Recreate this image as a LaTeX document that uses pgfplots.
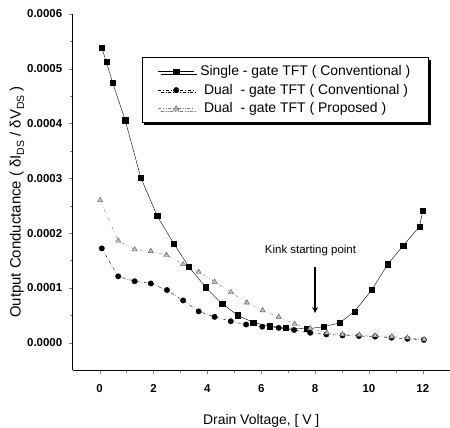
\documentclass[border=0pt]{standalone}
\usepackage{fontspec}
\setmainfont{Liberation Sans}
\usepackage{pgfplots}
\pgfplotsset{compat=1.18}
\usetikzlibrary{shadows,arrows.meta}

\newcommand{\sub}[1]{\raisebox{-0.45ex}{\fontsize{10.5}{11}\selectfont #1}}

\begin{document}
\begin{tikzpicture}
\useasboundingbox (-72.7bp,-58bp) rectangle (377.3bp,370bp);
\begin{axis}[
    scale only axis,
    width=377bp, height=356bp,
    at={(0,0)}, anchor=south west,
    xmin=-1, xmax=13,
    ymin=-0.00005, ymax=0.0006,
    axis x line*=bottom, axis y line*=left,
    axis line style={line width=0.8pt},
    xtick={0,2,...,12},
    ytick={0,0.0001,...,0.0006},
    minor x tick num=1, minor y tick num=1,
    tick align=outside,
    major tick length=4bp, minor tick length=2.5bp,
    scaled y ticks=false,
    yticklabel style={/pgf/number format/fixed, /pgf/number format/fixed zerofill,
        /pgf/number format/precision=4, xshift=-3bp},
    xticklabel style={yshift=-7bp},
    /pgf/number format/assume math mode=true,
    ticklabel style={font=\fontsize{11.5}{13}\selectfont\bfseries},
    xlabel={Drain Voltage, [ V ]},
    ylabel={Output Conductance ( δI\sub{DS} / δV\sub{DS} )},
    xlabel style={font=\fontsize{14}{16}\selectfont, yshift=-15bp},
    ylabel style={font=\fontsize{15}{17}\selectfont, yshift=-4bp, xshift=-10bp},
    legend cell align=left,
    legend style={at={(0.183,0.878)}, anchor=north west,
        draw=black, line width=0.6pt,
        drop shadow={shadow xshift=2.5bp, shadow yshift=-2.5bp, fill=black, opacity=1},
        font=\fontsize{14}{16}\selectfont, row sep=3bp,
        inner xsep=16bp, inner ysep=6bp},
    legend image code/.code={
        \draw[mark repeat=2, mark phase=2, #1]
            plot coordinates {(0bp,0bp) (18bp,0bp) (36bp,0bp)};},
]
\addplot[black, thin, mark=square*, mark size=2.6bp] coordinates {
 (0.07,5.39e-4) (0.25,5.13e-4) (0.48,4.75e-4) (0.95,4.06e-4) (1.53,3.01e-4)
 (2.14,2.31e-4) (2.75,1.81e-4) (3.32,1.38e-4) (3.94,1.01e-4) (4.55,0.71e-4)
 (5.12,0.50e-4) (5.70,0.37e-4) (6.31,0.30e-4) (6.90,0.27e-4) (7.70,0.25e-4)
 (8.31,0.29e-4) (8.91,0.36e-4) (9.47,0.57e-4) (10.10,0.96e-4) (10.70,1.43e-4)
 (11.27,1.77e-4) (11.88,2.12e-4) (12.00,2.41e-4)
};
\addlegendentry{\ Single - gate TFT ( Conventional )}
\addplot[black, thin, dashdotted, mark=*, mark size=2.7bp, mark options={solid}] coordinates {
 (0.08,1.72e-4) (0.69,1.21e-4) (1.30,1.12e-4) (1.90,1.08e-4) (2.50,0.96e-4)
 (3.10,0.77e-4) (3.68,0.57e-4) (4.27,0.47e-4) (4.87,0.39e-4) (5.44,0.33e-4)
 (6.04,0.29e-4) (6.65,0.27e-4) (7.22,0.23e-4) (7.82,0.18e-4) (8.42,0.15e-4)
 (9.02,0.13e-4) (9.63,0.12e-4) (10.23,0.11e-4) (10.84,0.09e-4) (11.43,0.07e-4)
 (12.04,0.05e-4)
};
\addlegendentry{\ \ Dual \ - gate TFT ( Conventional )}
\addplot[gray, thin, dash dot dot, mark=triangle*, mark size=3bp,
    mark options={solid, fill=gray!50, draw=gray!70!black}] coordinates {
 (0.02,2.60e-4) (0.69,1.86e-4) (1.30,1.70e-4) (1.90,1.67e-4) (2.48,1.60e-4)
 (3.10,1.43e-4) (3.68,1.29e-4) (4.27,1.11e-4) (4.88,0.92e-4) (5.47,0.73e-4)
 (6.05,0.59e-4) (6.65,0.47e-4) (7.24,0.34e-4) (7.82,0.26e-4) (8.44,0.18e-4)
 (9.02,0.15e-4) (9.64,0.14e-4) (10.23,0.13e-4) (10.85,0.11e-4) (11.43,0.09e-4)
 (12.05,0.06e-4)
};
\addlegendentry{\ \ Dual \ - gate TFT ( Proposed )}
\node[font=\fontsize{11.5}{13}\selectfont] at (axis cs:7.83,1.69e-4) {Kink starting point};
\draw[line width=1.6bp, -{Stealth[length=6bp, width=6bp]}]
    (axis cs:8,1.38e-4) -- (axis cs:8,0.54e-4);
\end{axis}
\end{tikzpicture}
\end{document}
